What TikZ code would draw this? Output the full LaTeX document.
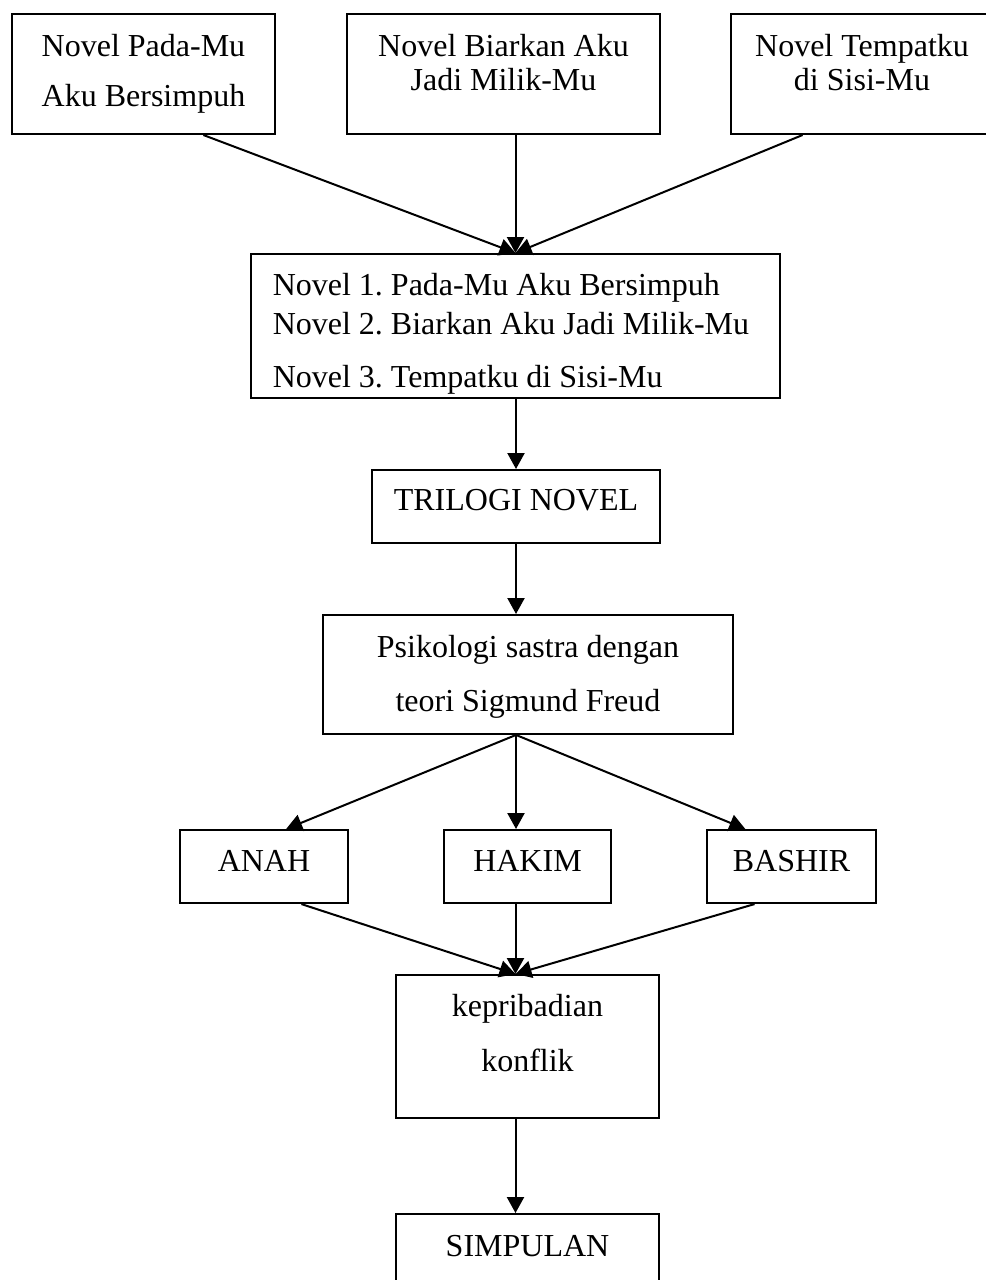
\documentclass[tikz,border=0pt]{standalone}
\usepackage{fontspec}
\setmainfont{Liberation Serif}
\usetikzlibrary{arrows.meta,calc}
\frenchspacing

\begin{document}
\begin{tikzpicture}[x=0.375pt, y=-0.375pt,
  box/.style={draw, line width=0.75pt, anchor=north, inner xsep=0pt, inner ysep=0pt, font=\fontsize{12pt}{14.4pt}\selectfont},
  link/.style={-{Triangle[length=6pt,width=6.4pt]}, line width=0.75pt}]
  \useasboundingbox (0,0) rectangle (986,1280);
  % three novels
  \node[box, minimum width=98.6pt, text height=15.75pt, text depth=29.25pt] (pada) at (143.5,13)
    {\begin{tabular}[t]{@{}c@{}}Novel Pada-Mu\\[4.35pt]Aku Bersimpuh\end{tabular}};
  \node[box, minimum width=117.4pt, text height=15.75pt, text depth=29.25pt] (biarkan) at (503.5,13)
    {\renewcommand{\arraystretch}{0.91}\begin{tabular}[t]{@{}c@{}}Novel Biarkan Aku\\Jadi Milik-Mu\end{tabular}};
  \node[box, minimum width=98.25pt, text height=15.75pt, text depth=29.25pt] (tempat) at (862,13)
    {\renewcommand{\arraystretch}{0.91}\begin{tabular}[t]{@{}c@{}}Novel Tempatku\\di Sisi-Mu\end{tabular}};
  \node[box, minimum width=198.4pt, text height=15.4pt, text depth=38.6pt] (daftar) at (515.5,253)
    {\begin{tabular}[t]{@{}l@{\hspace{3.4pt}}}Novel 1. Pada-Mu Aku Bersimpuh\\[0.2pt]Novel 2. Biarkan Aku Jadi Milik-Mu\\[5.5pt]Novel 3. Tempatku di Sisi-Mu\end{tabular}};
  \node[box, minimum width=108pt, text height=15pt, text depth=12.4pt] (trilogi) at (516,469) {TRILOGI NOVEL};
  \node[box, minimum width=153.75pt, text height=16.1pt, text depth=28.5pt] (psiko) at (528,614)
    {\begin{tabular}[t]{@{}c@{}}Psikologi sastra dengan\\[5.85pt]teori Sigmund Freud\end{tabular}};
  % characters
  \node[box, minimum width=63pt, text height=15.4pt, text depth=12pt] (anah) at (264,829) {ANAH};
  \node[box, minimum width=62.6pt, text height=15.4pt, text depth=12pt] (hakim) at (527.5,829) {HAKIM};
  \node[box, minimum width=63.4pt, text height=15.4pt, text depth=12pt] (bashir) at (791.5,829) {BASHIR};
  \node[box, minimum width=98.6pt, text height=15.4pt, text depth=38.25pt] (kepri) at (527.5,974)
    {\begin{tabular}[t]{@{}c@{}}kepribadian\\[6.2pt]konflik\end{tabular}};
  \node[box, minimum width=98.6pt, text height=15.75pt, text depth=20pt] (simpulan) at (527.5,1213) {SIMPULAN};
  % connectors
  \draw[link] ($(pada.south west)!0.726!(pada.south east)$) -- (daftar.north);
  \draw[link] (daftar.north |- biarkan.south) -- (daftar.north);
  \draw[link] ($(tempat.south west)!0.275!(tempat.south east)$) -- (daftar.north);
  \draw[link] (trilogi.north |- daftar.south) -- (trilogi.north);
  \draw[link] (trilogi.south) -- (trilogi.south |- psiko.north);
  \coordinate (cabang) at ($(psiko.south)+(-12,0)$);
  \draw[link] (cabang) -- ($(anah.north west)!0.63!(anah.north east)$);
  \draw[link] (cabang) -- (cabang |- hakim.north);
  \draw[link] (cabang) -- ($(bashir.north west)!0.23!(bashir.north east)$);
  \coordinate (temu) at ($(kepri.north)+(-12,0)$);
  \draw[link] ($(anah.south west)!0.72!(anah.south east)$) -- (temu);
  \draw[link] (temu |- hakim.south) -- (temu);
  \draw[link] ($(bashir.south west)!0.284!(bashir.south east)$) -- (temu);
  \draw[link] (temu |- kepri.south) -- (temu |- simpulan.north);
\end{tikzpicture}
\end{document}
